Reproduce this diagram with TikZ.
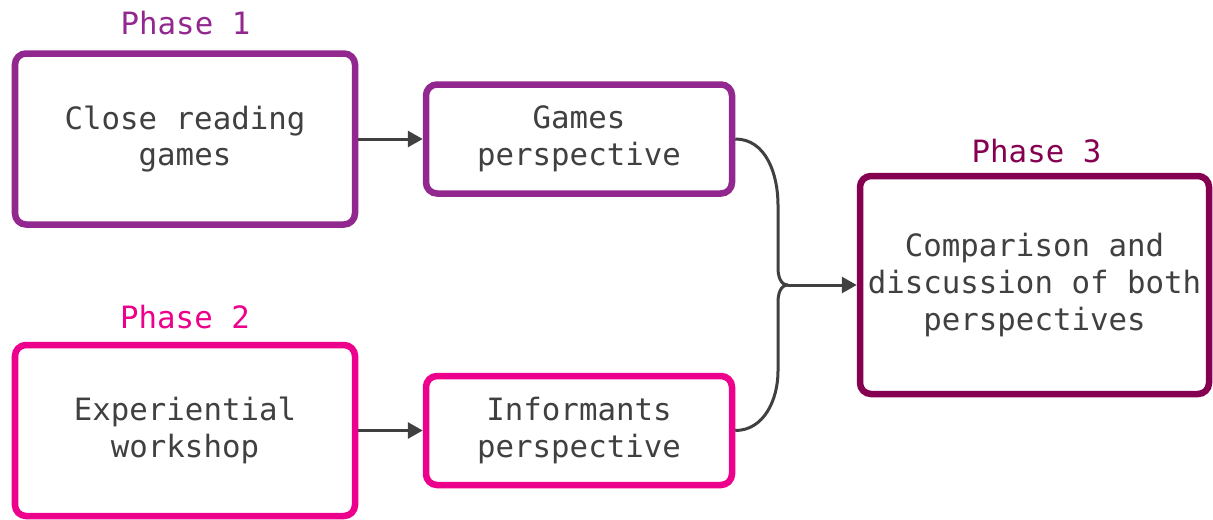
\documentclass[tikz,border=0pt]{standalone}
\usepackage{fontspec}
\setmonofont{DejaVu Sans Mono}
\usetikzlibrary{arrows.meta}
\definecolor{phaseone}{HTML}{92278F}
\definecolor{phasetwo}{HTML}{EC008C}
\definecolor{phasethree}{HTML}{850051}
\definecolor{ink}{HTML}{404040}

\begin{document}
\begin{tikzpicture}[font=\ttfamily\fontsize{17.5}{21}\selectfont, text=ink,
  box/.style={rectangle, rounded corners=0.22cm, line width=0.13cm, fill=white, align=center, inner sep=0pt},
  big/.style={box, minimum width=6.8cm, minimum height=3.42cm},
  small/.style={box, minimum width=6.12cm, minimum height=2.18cm},
  link/.style={draw=ink, line width=0.06cm},
  arrow/.style={link, -{Triangle[length=0.3cm, width=0.32cm]}}]

        \useasboundingbox (0, 0) rectangle (24.26, 10.38);

        \node[text=phaseone, anchor=base]   (p1) at (3.71, 9.70)  {Phase 1};
        \node[big, draw=phaseone]   (crg) at (3.7, 7.6)   {Close reading\\games};
        \node[small, draw=phaseone] (gp)  at (11.58, 7.6) {Games\\perspective};

        \node[text=phasetwo, anchor=base]   (p2) at (3.70, 3.82)  {Phase 2};
        \node[big, draw=phasetwo]   (ew)  at (3.7, 1.77)  {Experiential\\workshop};
        \node[small, draw=phasetwo] (ip)  at (11.58, 1.77) {Informants\\perspective};

        \node[text=phasethree, anchor=base] (p3) at (20.73, 7.14) {Phase 3};
        \node[box, draw=phasethree, minimum width=6.98cm, minimum height=4.36cm] (cmp) at (20.69, 4.68) {Comparison and\\discussion of both\\perspectives};

        \coordinate (ut) at (15.56, 6.28);
        \coordinate (ub) at (15.56, 5.02);
        \coordinate (lt) at (15.56, 4.34);
        \coordinate (lb) at (15.56, 2.96);
        \coordinate (jn) at (15.76, 4.68);

        \draw[arrow] (crg.east) -- (gp.west);
        \draw[arrow] (ew.east) -- (ip.west);
        \draw[link] (gp.east) to[out=0, in=90] (ut) -- (ub) to[out=-90, in=180] (jn);
        \draw[link] (ip.east) to[out=0, in=-90] (lb) -- (lt) to[out=90, in=180] (jn);
        \draw[arrow] (jn) -- (cmp.west);

    \end{tikzpicture}
\end{document}
